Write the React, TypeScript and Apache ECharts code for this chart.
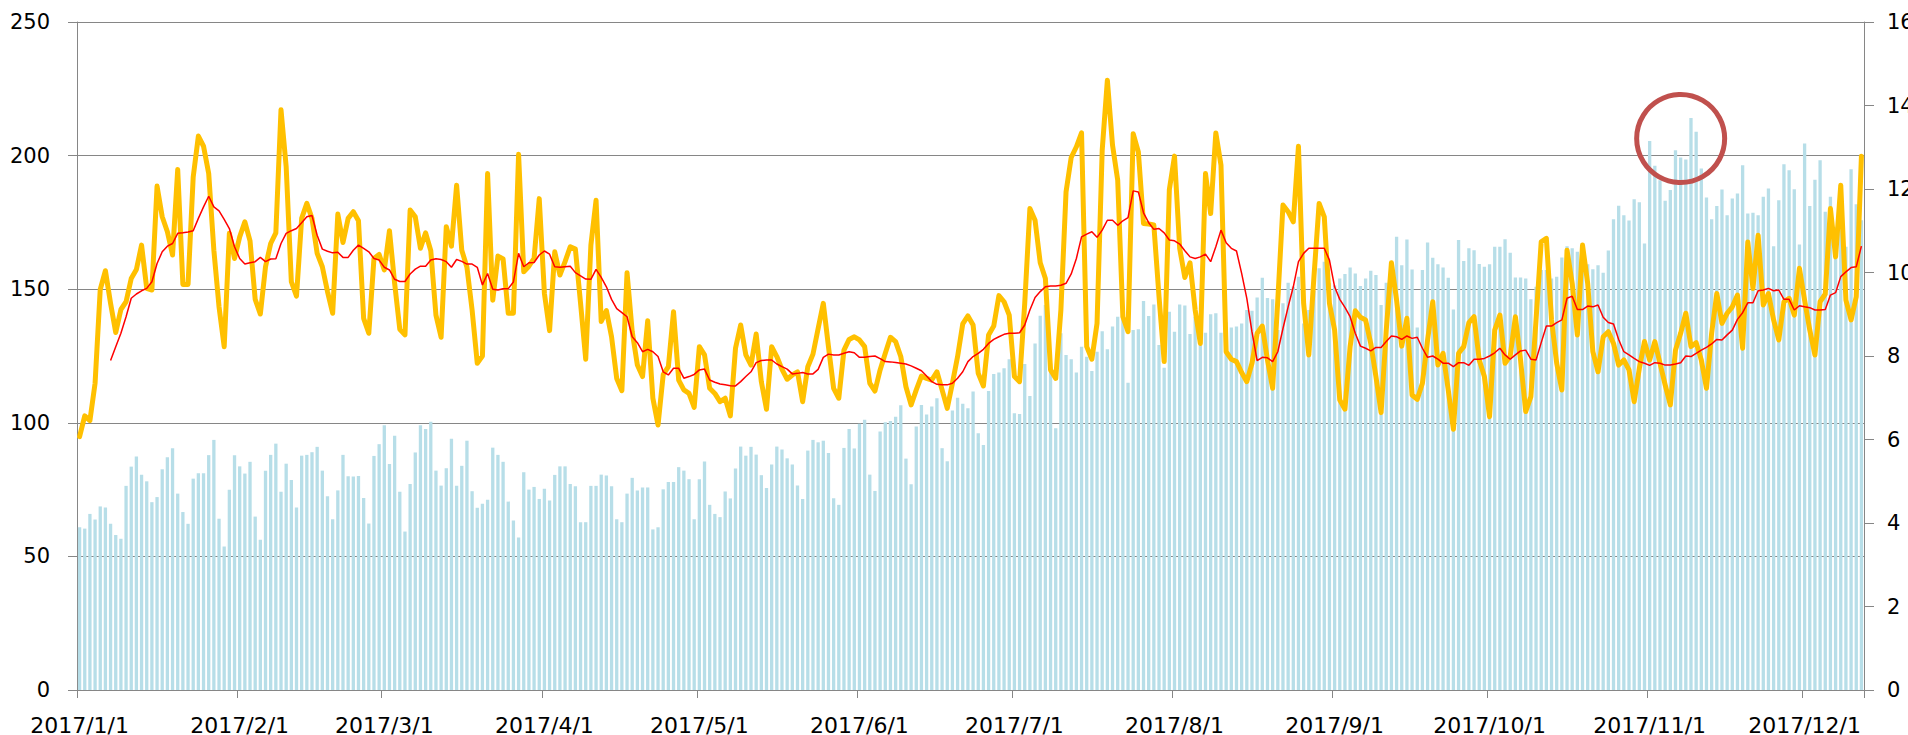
import React, { useEffect, useRef } from "react";
import * as echarts from "echarts";

// daily categories 2017/1/1 .. 2017/12/12
const START = { y: 2017, m: 0, d: 1 };
const DAY_COUNT = 346;
const dates: string[] = [];
for (let k = 0; k < DAY_COUNT; k++) {
  const dt = new Date(START.y, START.m, START.d + k);
  dates.push(`${dt.getFullYear()}/${dt.getMonth() + 1}/${dt.getDate()}`);
}

const leftTicks = [0, 50, 100, 150, 200, 250];
const rightTicks = [0, 2, 4, 6, 8, 10, 12, 14, 16];

const barValues = [
  60.9,60.4,65.9,63.8,68.7,68.3,62.2,58.0,56.6,76.4,83.6,87.4,80.6,78.1,70.3,72.2,82.6,87.1,90.5,73.5,66.6,62.2,79.1,81.1,81.1,87.9,93.6,64.1,53.7,74.9,87.9,83.7,81.0,85.4,64.9,56.2,82.1,88.0,92.2,74.2,84.7,78.6,68.3,87.7,88.0,89.0,91.0,82.1,72.5,63.9,74.7,88.0,80.0,79.9,80.1,71.9,62.3,
  87.6,92.0,99.1,84.6,95.2,74.2,59.3,77.1,88.9,99.1,97.7,100.4,82.1,76.5,83.0,94.0,76.4,83.9,93.3,74.4,68.2,69.7,71.2,90.7,88.0,85.4,70.5,63.4,57.1,81.5,75.0,76.0,71.5,75.3,70.9,80.5,83.7,83.7,77.1,76.3,62.8,62.8,76.4,76.4,80.6,80.3,76.3,63.9,62.8,73.5,79.4,74.7,75.8,75.8,60.1,60.9,75.1,
  77.8,77.8,83.4,82.1,78.9,63.9,78.9,85.5,69.3,65.9,64.7,74.3,71.7,82.9,91.1,87.7,91.0,88.1,80.4,75.6,84.4,91.1,90.0,86.7,84.4,76.5,71.5,89.6,93.6,92.7,93.3,88.7,71.8,69.3,90.6,97.7,90.4,99.6,101.1,80.6,74.5,96.7,100.2,100.7,102.3,106.6,86.6,77.0,98.6,106.7,103.1,106.1,109.2,90.5,85.6,104.6,109.4,
  107.1,105.4,111.7,96.1,91.7,111.9,118.3,118.8,120.4,123.8,103.6,103.3,122.0,110.0,129.7,140.1,144.1,122.3,98.0,133.5,125.4,123.8,118.8,128.5,124.7,119.4,126.6,134.3,127.5,136.0,139.7,141.9,115.0,134.7,135.0,145.6,140.0,144.3,129.1,120.6,141.6,134.1,144.3,143.9,133.2,139.7,129.1,133.7,140.6,141.0,133.7,137.6,135.7,136.0,137.2,142.2,141.9,
  146.9,154.3,146.7,146.2,134.7,144.7,152.4,150.9,154.7,137.2,142.2,149.3,157.8,160.3,152.2,151.5,154.0,155.7,158.1,155.9,151.2,154.0,156.9,155.3,144.1,152.4,155.7,169.6,159.0,168.6,157.4,135.7,157.2,167.5,161.8,159.3,158.1,154.3,142.4,168.4,160.6,165.3,164.6,159.4,158.4,159.3,165.9,165.9,168.7,163.6,154.4,154.4,154.0,146.2,150.9,157.2,157.2,154.0,154.7,
  161.9,166.1,165.3,164.0,162.1,159.3,157.5,159.0,156.2,164.5,176.2,181.2,177.7,175.7,183.7,182.5,167.1,205.5,196.2,190.8,183.1,187.1,202.0,199.3,198.5,214.1,208.9,195.2,184.3,176.2,181.1,187.3,177.7,183.9,185.8,196.4,178.3,178.6,177.7,184.6,187.7,166.1,183.3,196.8,194.5,187.4,166.7,204.5,181.1,191.0,198.3,179.0,184.6,173.4,184.6,165.9,194.9,181.8,175.8,
];

const yellowValues = [
  94.8,102.6,100.8,114.8,149.9,156.9,144.7,133.8,142.4,145.3,154.0,157.4,166.5,150.3,149.7,188.6,177.1,171.5,162.8,194.8,151.8,151.8,192.0,207.3,203.5,193.3,164.6,143.4,128.5,170.9,161.5,169.6,175.2,168.1,146.2,140.7,158.4,167.1,171.1,217.2,195.8,152.8,147.4,176.5,182.1,176.5,163.4,158.4,149.1,141.0,178.1,167.5,176.5,179.0,175.6,139.1,133.5,
  161.5,163.0,157.2,171.9,152.2,135.0,132.9,179.6,177.1,165.3,171.1,164.4,140.3,132.0,173.4,166.1,188.9,164.6,158.2,142.2,122.3,125.0,193.3,145.9,162.4,161.3,141.0,141.0,200.5,156.5,158.6,161.5,183.9,148.4,134.5,164.0,155.3,160.3,165.9,165.0,144.7,123.8,166.5,183.3,137.9,142.0,132.2,116.6,112.0,156.2,134.1,121.6,117.3,138.2,109.2,99.2,118.0,
  121.0,141.6,116.0,112.3,111.0,105.8,128.5,125.4,112.9,111.0,107.9,109.2,102.6,127.9,136.6,125.4,121.6,133.2,115.4,105.1,128.5,124.8,120.0,116.3,117.9,119.1,107.9,121.0,125.7,135.3,144.7,128.5,112.9,109.2,127.2,131.2,132.2,131.0,128.5,114.8,111.9,119.8,126.0,132.0,130.4,124.8,113.5,106.7,112.3,117.5,116.6,116.0,119.1,112.3,105.4,114.8,124.8,
  137.0,140.0,136.6,118.5,113.8,132.9,136.2,147.6,145.3,140.3,117.3,115.4,144.7,180.2,175.8,159.9,154.0,119.8,116.6,142.2,186.4,199.3,203.3,208.5,128.5,123.8,137.2,202.0,228.2,203.9,190.8,139.7,134.1,208.2,201.4,174.6,174.4,174.0,147.2,122.9,187.3,199.8,165.3,154.4,159.9,142.2,129.7,193.3,178.3,208.5,196.4,126.6,123.8,122.9,118.8,115.4,122.3,
  133.5,136.2,123.5,112.9,145.9,181.5,179.0,175.2,203.5,144.7,125.4,154.7,182.1,177.1,144.7,134.7,108.5,105.1,128.5,141.9,139.5,138.5,129.7,117.3,103.8,134.7,159.9,145.9,128.7,139.1,110.4,108.8,114.8,131.0,145.3,121.6,126.0,112.3,97.6,126.0,128.5,137.5,139.7,123.5,117.3,102.3,134.7,140.3,122.3,125.0,139.7,123.5,104.2,109.8,138.5,167.7,169.0,138.5,122.3,
  112.3,164.6,152.2,132.9,166.5,152.2,126.6,119.1,132.2,134.1,129.7,121.6,123.5,119.8,107.9,120.4,130.4,123.5,130.4,122.3,114.2,106.7,127.2,133.5,141.0,128.5,130.0,123.5,112.9,133.5,148.4,137.2,141.0,143.4,147.8,127.9,167.7,150.3,170.2,144.1,148.4,138.5,131.0,145.3,146.6,140.3,157.8,145.9,134.7,125.4,145.3,148.2,180.2,162.1,188.9,145.9,138.5,147.2,199.8,
];

const redValues: (number | null)[] = [
  null,null,null,null,null,null,
  123.3,128.5,133.5,139.7,146.6,148.2,149.4,150.3,152.8,159.6,164.0,166.1,167.1,170.9,171.1,171.4,171.9,176.5,180.8,184.8,180.8,179.3,176.1,172.7,165.9,161.5,159.4,159.9,160.3,161.9,160.3,161.3,161.4,167.1,170.9,171.9,172.7,174.9,177.1,177.6,170.2,165.0,164.2,163.6,163.8,161.9,161.9,164.6,166.5,165.3,164.0,
  161.5,160.9,158.2,157.2,153.7,152.9,152.9,155.7,157.5,158.6,158.6,160.9,161.4,161.1,160.3,158.2,161.1,160.4,159.4,159.4,158.2,151.6,155.9,150.0,149.7,150.2,150.2,152.7,163.4,158.4,159.9,160.0,162.8,164.3,163.1,158.4,158.2,158.4,158.6,156.2,155.0,153.8,153.7,157.4,154.4,150.9,146.2,142.7,141.2,139.7,132.2,130.0,126.6,127.5,126.6,124.8,119.1,
  117.9,120.4,120.4,116.7,117.3,118.1,119.8,120.1,116.0,115.2,114.5,114.2,113.9,113.8,115.4,117.3,119.1,122.5,123.3,123.5,123.5,122.0,121.0,120.1,118.3,118.5,118.8,118.3,118.3,120.0,124.5,125.7,125.4,125.4,126.0,126.6,126.2,124.5,124.5,124.8,125.0,124.0,122.9,122.8,122.6,122.3,122.0,121.3,120.4,119.5,117.5,115.4,114.4,114.2,114.2,114.8,116.7,
  119.1,122.9,124.8,126.0,127.5,129.7,131.2,132.2,133.1,133.5,133.5,133.7,136.6,142.2,146.9,149.1,150.9,151.2,151.2,151.5,152.2,155.7,161.5,169.6,170.6,171.5,169.4,172.1,175.8,175.8,173.9,175.6,176.8,186.8,186.4,178.6,174.9,172.4,172.7,171.1,168.4,168.1,166.9,164.4,162.1,161.5,162.1,163.1,160.3,165.9,172.1,167.4,165.3,164.3,155.9,146.6,134.0,
  123.3,124.5,124.3,122.9,126.6,135.3,143.4,150.9,160.3,163.4,165.3,165.3,165.3,165.3,160.9,150.9,146.2,143.2,139.7,133.5,128.7,127.9,126.9,128.2,128.2,130.4,132.5,132.2,131.2,132.5,131.6,132.0,127.9,124.5,125.0,123.8,122.3,122.3,121.0,122.5,122.5,121.5,123.8,123.8,124.1,125.0,126.2,127.9,125.4,123.8,125.4,126.9,127.2,123.8,123.5,130.0,136.2,136.2,137.5,
  138.5,146.6,147.4,142.4,142.4,143.7,143.4,144.1,139.5,137.5,137.0,131.2,126.6,125.4,124.1,122.9,122.3,121.5,122.5,122.3,121.6,121.6,122.0,122.5,125.0,124.8,126.0,127.2,128.2,129.5,131.2,131.0,132.9,134.7,138.7,141.2,144.9,144.9,149.4,149.7,150.3,149.4,149.7,146.2,146.2,142.2,143.8,143.4,143.1,142.2,142.2,142.4,147.8,148.7,154.7,156.5,158.1,158.4,166.1,
];

// highlighted spot (red ring)
const highlightDate = "2017/11/7";
const highlightValue = 206.4;

const GRAY = "#868686";
const FONT = "DejaVu Sans";

const isMonthStart = (_i: number, v: string) => /\/1$/.test(v);

export default function App() {
  const ref = useRef<HTMLDivElement>(null);
  useEffect(() => {
    if (!ref.current) return;
    const chart = echarts.init(ref.current, undefined, { renderer: "svg" });
    chart.setOption({
      animation: false,
      backgroundColor: "#ffffff",
      grid: { left: 77, right: 44, top: 22, bottom: 45, containLabel: false, outerBoundsMode: "none" },
      xAxis: {
        type: "category",
        data: dates,
        boundaryGap: true,
        axisLine: { show: true, lineStyle: { color: GRAY, width: 1 } },
        axisTick: { show: true, interval: isMonthStart, length: 8, lineStyle: { color: GRAY, width: 1 } },
        axisLabel: { interval: isMonthStart, color: "#000", fontFamily: FONT, fontSize: 22, margin: 24 },
        splitLine: { show: false },
      },
      yAxis: [
        {
          type: "value",
          min: leftTicks[0],
          max: leftTicks[leftTicks.length - 1],
          interval: leftTicks[1] - leftTicks[0],
          position: "left",
          axisLine: { show: true, lineStyle: { color: GRAY, width: 1 } },
          axisTick: { show: true, length: 9, lineStyle: { color: GRAY, width: 1 } },
          axisLabel: { color: "#000", fontFamily: FONT, fontSize: 21, margin: 27 },
          splitLine: { show: true, lineStyle: { color: GRAY, width: 1.2 } },
        },
        {
          type: "value",
          min: rightTicks[0],
          max: rightTicks[rightTicks.length - 1],
          interval: rightTicks[1] - rightTicks[0],
          position: "right",
          axisLine: { show: true, lineStyle: { color: GRAY, width: 1 } },
          axisTick: { show: true, length: 10, lineStyle: { color: GRAY, width: 1 } },
          axisLabel: { color: "#000", fontFamily: FONT, fontSize: 21, margin: 23 },
          splitLine: { show: false },
        },
      ],
      series: [
        {
          type: "bar",
          yAxisIndex: 0,
          data: barValues,
          barWidth: "64%",
          itemStyle: { color: "#B7DEE8" },
          markPoint: {
            silent: true,
            symbol: "circle",
            symbolSize: 88,
            label: { show: false },
            itemStyle: { color: "rgba(0,0,0,0)", borderColor: "#C0504D", borderWidth: 5 },
            data: [{ coord: [highlightDate, highlightValue] }],
          },
        },
        {
          type: "line",
          yAxisIndex: 0,
          data: yellowValues,
          symbol: "none",
          lineStyle: { color: "#FFC000", width: 5, join: "round", cap: "round" },
          z: 3,
        },
        {
          type: "line",
          yAxisIndex: 0,
          data: redValues,
          symbol: "none",
          connectNulls: false,
          lineStyle: { color: "#FF0000", width: 1.5 },
          z: 4,
        },
      ],
    });
    return () => chart.dispose();
  }, []);
  return (
    <div
      ref={ref}
      style={{ position: "fixed", left: 0, top: 0, width: "1908px", height: "735px", background: "#fff" }}
    />
  );
}
